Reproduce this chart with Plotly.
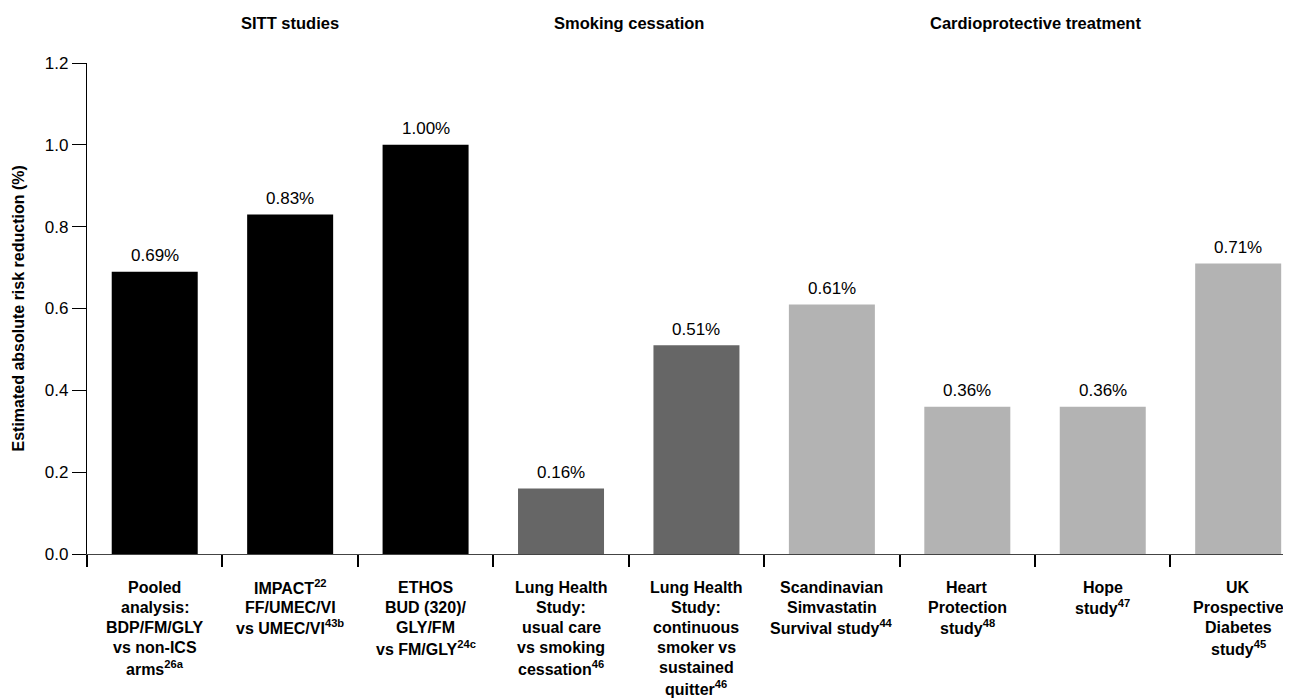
import plotly.graph_objects as go

categories = [
    "Pooled<br>analysis:<br>BDP/FM/GLY<br>vs non-ICS<br>arms<sup>26a</sup>",
    "IMPACT<sup>22</sup><br>FF/UMEC/VI<br>vs UMEC/VI<sup>43b</sup>",
    "ETHOS<br>BUD (320)/<br>GLY/FM<br>vs FM/GLY<sup>24c</sup>",
    "Lung Health<br>Study:<br>usual care<br>vs smoking<br>cessation<sup>46</sup>",
    "Lung Health<br>Study:<br>continuous<br>smoker vs<br>sustained<br>quitter<sup>46</sup>",
    "Scandinavian<br>Simvastatin<br>Survival study<sup>44</sup>",
    "Heart<br>Protection<br>study<sup>48</sup>",
    "Hope<br>study<sup>47</sup>",
    "UK<br>Prospective<br>Diabetes<br>study<sup>45</sup>",
]
values = [0.69, 0.83, 1.00, 0.16, 0.51, 0.61, 0.36, 0.36, 0.71]
groups = ["SITT", "SITT", "SITT", "Smoking", "Smoking", "Cardio", "Cardio", "Cardio", "Cardio"]
group_titles = ["SITT studies", "Smoking cessation", "Cardioprotective treatment"]
group_names = ["SITT", "Smoking", "Cardio"]
group_colors = {"SITT": "#000000", "Smoking": "#666666", "Cardio": "#b3b3b3"}
y_ticks = [0.0, 0.2, 0.4, 0.6, 0.8, 1.0, 1.2]
y_title = "Estimated absolute risk reduction (%)"

FONT = "Liberation Sans, Arial, sans-serif"
xs = list(range(len(categories)))

fig = go.Figure()
fig.add_trace(go.Bar(
    x=xs, y=values, width=0.635,
    marker=dict(color=[group_colors[g] for g in groups], line=dict(width=0)),
    hoverinfo="skip",
))

annotations = []
# value labels
for x, v in zip(xs, values):
    annotations.append(dict(
        x=x, y=v, xref="x", yref="y", text=f"{v:.2f}%", showarrow=False,
        yanchor="middle", yshift=16, font=dict(family=FONT, size=17, color="#000000"),
    ))
# category labels (one annotation per line for spacing control)
for x, lab in zip(xs, categories):
    for i, line in enumerate(lab.split("<br>")):
        annotations.append(dict(
            x=x, y=0, xref="x", yref="paper", text=f"<b>{line}</b>", showarrow=False,
            yanchor="middle", yshift=-33 - i * 20.2,
            font=dict(family=FONT, size=16, color="#000000"),
        ))
# group titles
for name, title in zip(group_names, group_titles):
    idx = [i for i, g in enumerate(groups) if g == name]
    cx = (min(idx) + max(idx)) / 2
    annotations.append(dict(
        x=cx, y=1, xref="x", yref="paper", text=f"<b>{title}</b>", showarrow=False,
        yanchor="middle", yshift=40, font=dict(family=FONT, size=16.5, color="#000000"),
    ))
# y axis title
annotations.append(dict(
    x=0, y=0.5, xref="paper", yref="paper", text=f"<b>{y_title}</b>", showarrow=False,
    textangle=-90, xanchor="center", yanchor="middle", xshift=-69,
    font=dict(family=FONT, size=16, color="#000000"),
))

fig.update_layout(
    width=1283, height=690,
    margin=dict(l=79, r=0, t=55, b=144),
    paper_bgcolor="white", plot_bgcolor="white",
    showlegend=False,
    annotations=annotations,
    font=dict(family=FONT, color="#000000"),
    xaxis=dict(
        range=[-0.5, 8.39],
        tickmode="array",
        tickvals=[i + 0.5 for i in range(-1, len(categories) - 1)],
        showticklabels=False,
        ticks="outside", ticklen=12, tickwidth=2, tickcolor="#000000",
        showline=True, linecolor="#444444", linewidth=1,
        showgrid=False, zeroline=False, fixedrange=True,
    ),
    yaxis=dict(
        range=[0, 1.2],
        tickmode="array", tickvals=y_ticks, ticktext=[f"{t:.1f}" for t in y_ticks],
        ticks="outside", ticklen=14, tickwidth=1.3, tickcolor="#000000",
        showline=True, linecolor="#000000", linewidth=1.3,
        showgrid=False, zeroline=False,
        tickfont=dict(family=FONT, size=17, color="#000000"),
    ),
)

fig.write_html("out.html")
